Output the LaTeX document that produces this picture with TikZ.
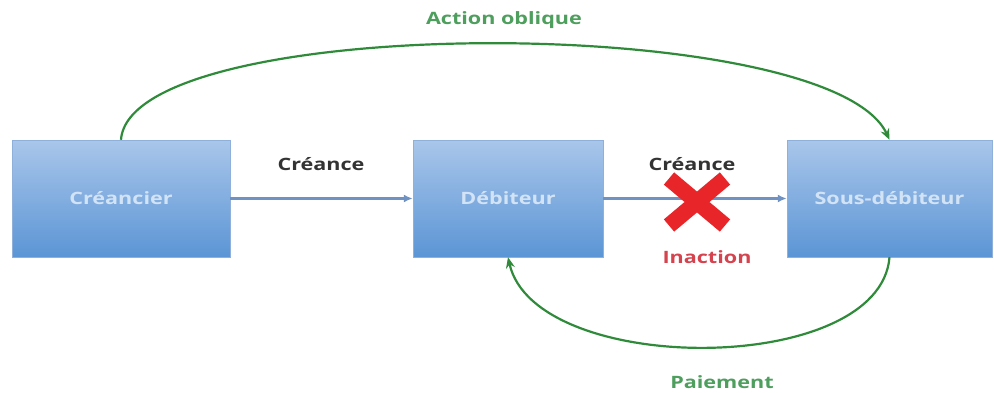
\documentclass[tikz,border=0pt]{standalone}
\usepackage{fontspec}
\setmainfont{Open Sans}[FakeStretch=1.27]
\usetikzlibrary{shapes.misc,arrows.meta}
\definecolor{boxtop}{HTML}{A9C6EA}
\definecolor{boxbot}{HTML}{5B95D5}
\definecolor{boxline}{HTML}{8FB0DA}
\definecolor{boxtext}{HTML}{D3E3F6}
\definecolor{flow}{HTML}{6F92C2}
\definecolor{arc}{HTML}{2F8B3A}
\definecolor{arctext}{HTML}{4E9E5E}
\definecolor{inact}{HTML}{D5434E}
\definecolor{cross}{HTML}{E8262A}
\tikzset{>=latex}
\tikzset{
  party/.style = {draw=boxline, top color=boxtop, bottom color=boxbot,
    minimum height=117pt, text=boxtext, font=\fontsize{17}{20}\selectfont\bfseries},
  flowarrow/.style = {-{Latex[length=9pt,width=8pt]}, flow, line width=2.2pt},
  green arc/.style = {-{Stealth[length=11pt,width=9pt]}, arc, line width=2.2pt},
  label/.style = {font=\fontsize{17}{20}\selectfont\bfseries}
}

\begin{document}
\begin{tikzpicture}[x=1pt,y=1pt]
  \useasboundingbox (0,0) rectangle (994,392);
  \node[party,minimum width=218pt] (creancier) at (121,193.5) {Créancier};
  \node[party,minimum width=190pt] (debiteur) at (508,193.5) {Débiteur};
  \node[party,minimum width=205pt] (sousdeb) at (889.5,193.5) {Sous-débiteur};

  \draw[flowarrow] (creancier) -- (debiteur);
  \draw[flowarrow] (debiteur) -- (sousdeb);
  \node[label,text=black!80] (creance1) at (321,228) {Créance};
  \node[label,text=black!80] (creance2) at (692,228) {Créance};

  \node[cross out,draw=cross,line width=16pt,minimum width=40pt,minimum height=31pt] (blocked) at (697,190) {};
  \node[label,text=inact] (inaction) at (707,135) {Inaction};

  % action oblique par dessus
  \draw[green arc] (creancier.north) .. controls (130,380) and (830,380) .. (sousdeb.north);
  \node[label,text=arctext] (oblique) at (504,372) {Action oblique};

  % paiement par dessous
  \draw[green arc] (sousdeb.south) .. controls (880,15) and (535,15) .. (debiteur.south);
  \node[label,text=arctext] (paiement) at (722,10) {Paiement};
\end{tikzpicture}
\end{document}
